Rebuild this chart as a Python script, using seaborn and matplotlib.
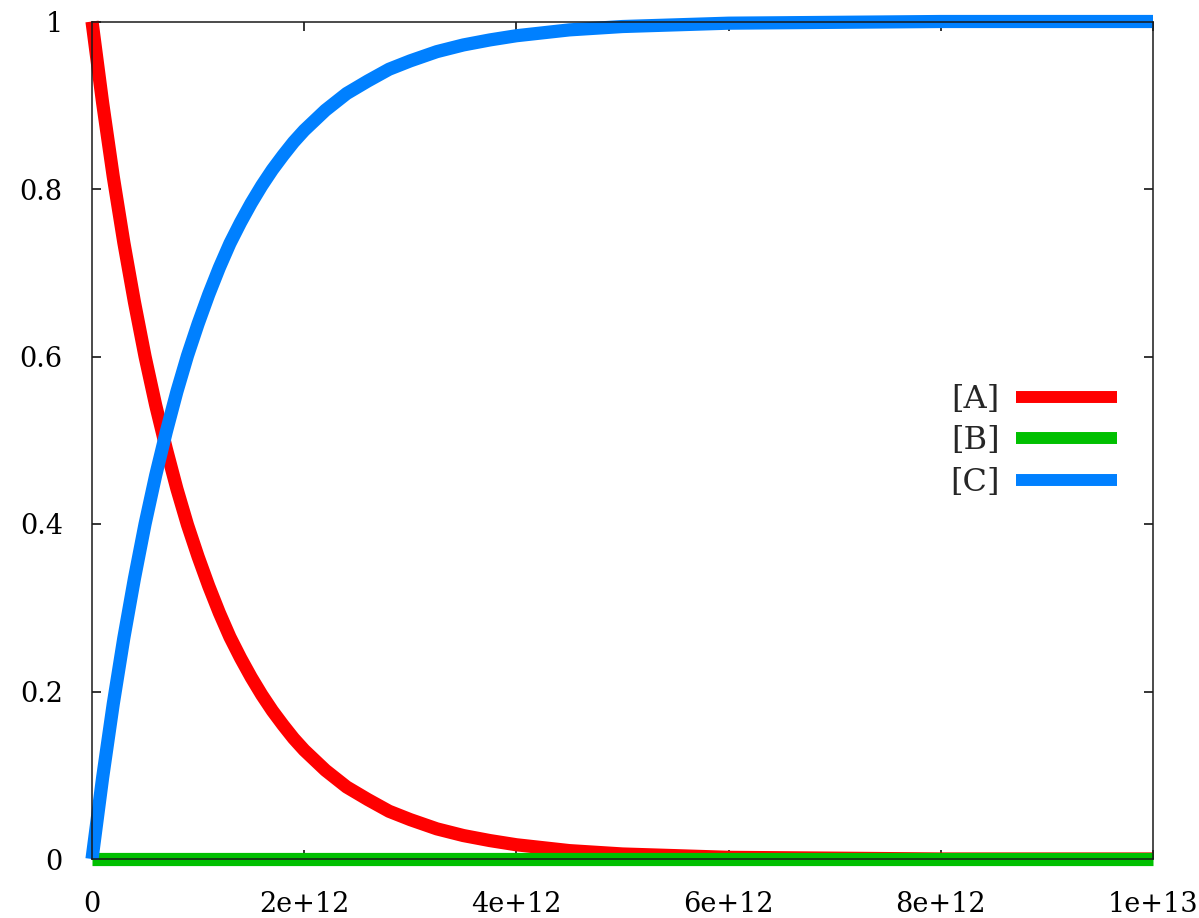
import numpy as np
import pandas as pd
import matplotlib
matplotlib.use("Agg")
import matplotlib.pyplot as plt
import seaborn as sns

# Time points (units of 1e12) and concentrations of the three species
time_e12 = [0.0, 0.1, 0.2, 0.3, 0.4, 0.5, 0.6, 0.7, 0.8, 0.9, 1.0, 1.1, 1.2,
            1.3, 1.4, 1.5, 1.6, 1.7, 1.8, 1.9, 2.0, 2.2, 2.4, 2.6, 2.8, 3.0,
            3.25, 3.5, 3.75, 4.0, 4.5, 5.0, 5.5, 6.0, 7.0, 8.0, 9.0, 10.0]
conc_a = [1.000, 0.903, 0.815, 0.736, 0.665, 0.600, 0.542, 0.490, 0.442,
          0.399, 0.361, 0.326, 0.294, 0.265, 0.240, 0.217, 0.196, 0.177,
          0.160, 0.144, 0.130, 0.106, 0.086, 0.071, 0.057, 0.047, 0.036,
          0.028, 0.022, 0.017, 0.010, 0.006, 0.004, 0.002, 0.001, 0.000,
          0.000, 0.000]
conc_b = [0.000] * len(time_e12)
conc_c = [0.000, 0.097, 0.185, 0.264, 0.335, 0.400, 0.458, 0.510, 0.558,
          0.601, 0.639, 0.674, 0.706, 0.735, 0.760, 0.783, 0.804, 0.823,
          0.840, 0.856, 0.870, 0.894, 0.914, 0.929, 0.943, 0.953, 0.964,
          0.972, 0.978, 0.983, 0.990, 0.994, 0.996, 0.998, 0.999, 1.000,
          1.000, 1.000]

species = ["[A]", "[B]", "[C]"]
colors = ["#ff0000", "#00c000", "#0080ff"]
x_ticks = [0, 2e12, 4e12, 6e12, 8e12, 1e13]
x_tick_labels = ["0", "2e+12", "4e+12", "6e+12", "8e+12", "1e+13"]
y_ticks = [0, 0.2, 0.4, 0.6, 0.8, 1.0]
y_tick_labels = ["0", "0.2", "0.4", "0.6", "0.8", "1"]

t = np.array(time_e12) * 1e12
df = pd.concat([
    pd.DataFrame({"t": t, "conc": conc_a, "species": species[0]}),
    pd.DataFrame({"t": t, "conc": conc_b, "species": species[1]}),
    pd.DataFrame({"t": t, "conc": conc_c, "species": species[2]}),
], ignore_index=True)

sns.set_style("ticks")
plt.rcParams["font.family"] = ["DejaVu Serif"]

W, H = 1199, 918
LW = 9.5
fig = plt.figure(figsize=(W / 100, H / 100), dpi=100)
left, right, top, bottom = 92, 1153, 21.5, 859
ax = fig.add_axes([left / W, (H - bottom) / H, (right - left) / W, (bottom - top) / H])

sns.lineplot(data=df, x="t", y="conc", hue="species", hue_order=species,
             palette=colors, linewidth=LW, ax=ax, legend=False, sort=False)
for ln in ax.lines:
    ln.set_clip_on(False)
    ln.set_solid_capstyle("butt")
    ln.set_solid_joinstyle("round")

ax.set_xlim(0, 1e13)
ax.set_ylim(0, 1)
ax.set_xticks(x_ticks)
ax.set_xticklabels(x_tick_labels)
ax.set_yticks(y_ticks)
ax.set_yticklabels(y_tick_labels)
ax.set_xlabel("")
ax.set_ylabel("")

ax.tick_params(direction="in", length=6.5, width=1.1, colors="black",
               labelsize=19.5, top=True, right=True)
ax.tick_params(axis="y", pad=21)
ax.tick_params(axis="x", pad=23)
for sp in ax.spines.values():
    sp.set_visible(True)
    sp.set_linewidth(1.1)
    sp.set_color("#1a1a1a")
    sp.set_zorder(5)

handles = [plt.Line2D([], [], color=c, linewidth=8.6, solid_capstyle="butt") for c in colors]
ax.legend(handles, species, markerfirst=False, frameon=False,
          loc="center right", bbox_to_anchor=(1133 / W, (H - 441) / H),
          bbox_transform=fig.transFigure, borderpad=0, handlelength=3.15,
          handletextpad=0.53, labelspacing=0.33, fontsize=23)

fig.savefig("out.png", dpi=100)
